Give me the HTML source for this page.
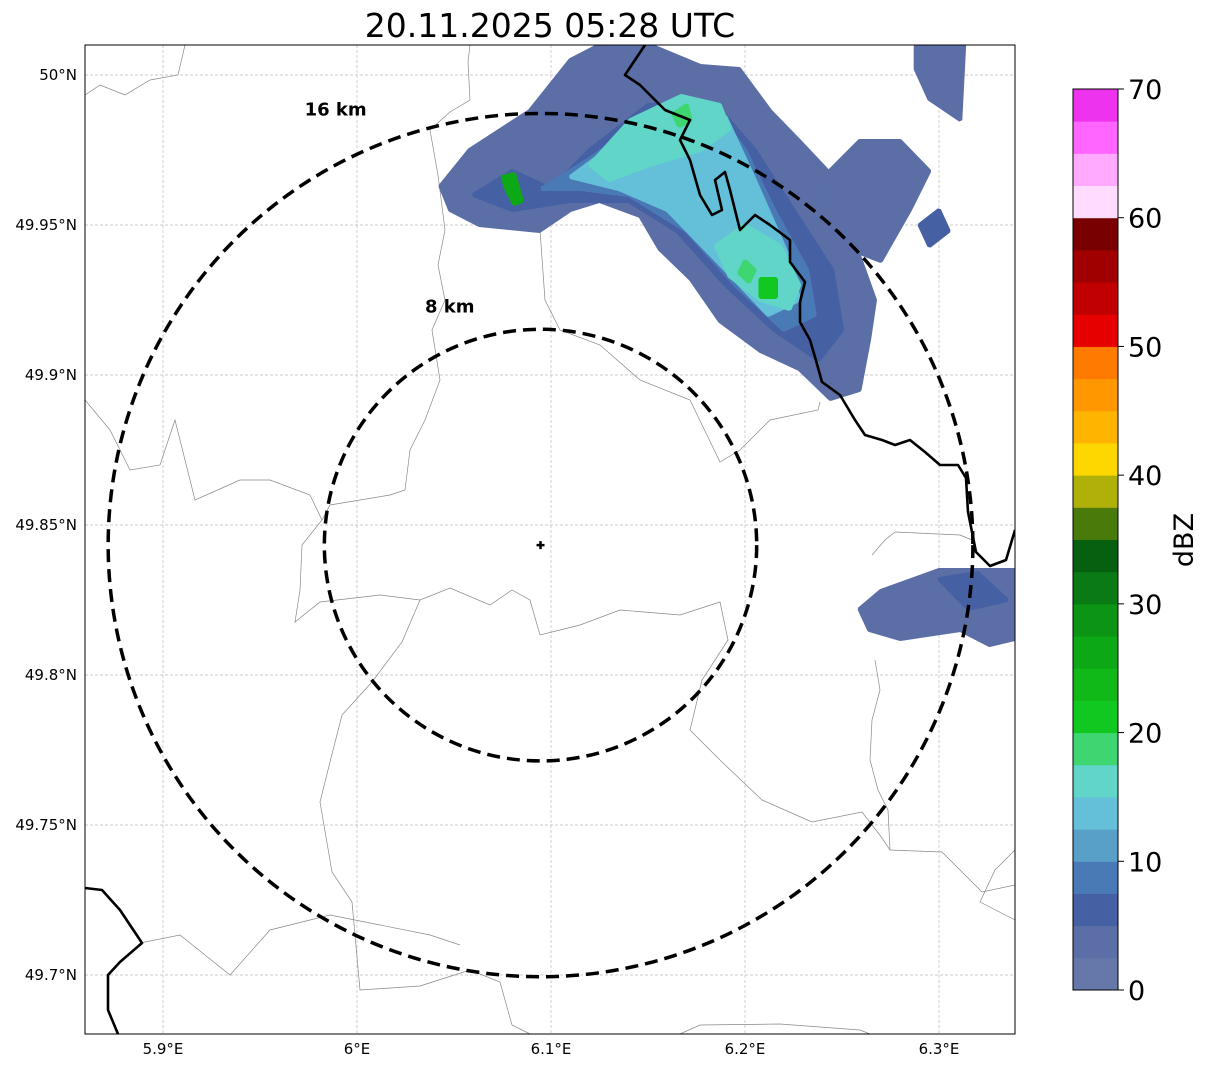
<!DOCTYPE html>
<html><head><meta charset="utf-8"><style>
body{margin:0;background:#fff;}
svg{display:block;font-family:"DejaVu Sans","Liberation Sans",sans-serif;}
</style></head><body>
<svg id="chart" width="1207" height="1069" viewBox="0 0 1207 1069">
<rect x="0" y="0" width="1207" height="1069" fill="#fff"/>
<text x="550" y="37" font-size="33" text-anchor="middle">20.11.2025 05:28 UTC</text>
<defs><clipPath id="mapclip"><rect x="85" y="45" width="930" height="989"/></clipPath></defs>
<g id="map" clip-path="url(#mapclip)"></g>
<g id="axes"></g>
<g id="cbar"></g>
</svg>
<script>
// ---- data ----
const lonTicks = [5.9, 6.0, 6.1, 6.2, 6.3];
const lonLabels = ["5.9°E", "6°E", "6.1°E", "6.2°E", "6.3°E"];
const latTicks = [50.0, 49.95, 49.9, 49.85, 49.8, 49.75, 49.7];
const latLabels = ["50°N", "49.95°N", "49.9°N", "49.85°N", "49.8°N", "49.75°N", "49.7°N"];
const cbarTicks = [0, 10, 20, 30, 40, 50, 60, 70];
const cbarColors = ["#6677aa","#5b6ea6","#4560a3","#4a7ab5","#58a0c8","#64c0d8","#60d5c8","#3dd670","#10c820","#10b818","#0da816","#0c9414","#0a7a14","#066010","#4a7a0a","#b0b00a","#ffd700","#ffb400","#ff9800","#ff7a00","#e60000","#c00000","#a00000","#780000","#ffdcff","#ffaaff","#ff66ff","#ee33ee"];
const radarCenter = [6.0946, 49.8433];
const ringRadiiKm = [8, 16];
const ringLabels = ["8 km", "16 km"];
const echoLevels = [2.5, 2.5, 2.5, 2.5, 5, 7.5, 12.5, 15, 15, 17.5, 17.5, 20, 25, 5, 5];
const echoShapes = [
 [[6.043,49.963],[6.058,49.975],[6.089,49.988],[6.110,50.005],[6.125,50.010],[6.151,50.010],[6.177,50.003],[6.197,50.002],[6.213,49.988],[6.228,49.978],[6.244,49.967],[6.244,49.958],[6.257,49.943],[6.267,49.925],[6.264,49.912],[6.259,49.895],[6.244,49.892],[6.228,49.902],[6.208,49.908],[6.187,49.918],[6.172,49.932],[6.156,49.942],[6.146,49.953],[6.125,49.958],[6.110,49.955],[6.094,49.948],[6.063,49.950],[6.048,49.955]],
 [[6.239,49.965],[6.259,49.978],[6.280,49.978],[6.295,49.968],[6.285,49.955],[6.270,49.938],[6.254,49.942],[6.239,49.952]],
 [[6.288,50.010],[6.313,50.010],[6.311,49.985],[6.295,49.992],[6.288,50.002]],
 [[6.259,49.822],[6.270,49.828],[6.300,49.835],[6.339,49.835],[6.339,49.812],[6.326,49.810],[6.311,49.815],[6.280,49.812],[6.264,49.815]],
 [[6.060,49.960],[6.080,49.968],[6.100,49.962],[6.120,49.975],[6.150,49.990],[6.185,49.990],[6.205,49.975],[6.225,49.955],[6.245,49.935],[6.250,49.915],[6.238,49.905],[6.215,49.915],[6.190,49.930],[6.165,49.948],[6.140,49.958],[6.110,49.958],[6.080,49.955]],
 [[6.095,49.962],[6.120,49.972],[6.150,49.986],[6.185,49.988],[6.200,49.975],[6.215,49.955],[6.232,49.935],[6.236,49.920],[6.220,49.915],[6.195,49.930],[6.170,49.948],[6.140,49.960],[6.115,49.962]],
 [[6.110,49.966],[6.135,49.978],[6.160,49.988],[6.190,49.986],[6.205,49.965],[6.222,49.940],[6.228,49.925],[6.212,49.920],[6.190,49.935],[6.160,49.955],[6.135,49.962]],
 [[6.120,49.970],[6.141,49.985],[6.167,49.993],[6.187,49.990],[6.192,49.982],[6.177,49.975],[6.151,49.970],[6.130,49.965]],
 [[6.185,49.943],[6.200,49.950],[6.218,49.943],[6.228,49.930],[6.223,49.922],[6.208,49.925],[6.192,49.933]],
 [[6.163,49.987],[6.170,49.990],[6.172,49.985],[6.166,49.983]],
 [[6.200,49.938],[6.205,49.935],[6.202,49.931],[6.197,49.934]],
 [[6.208,49.932],[6.216,49.932],[6.216,49.926],[6.208,49.926]],
 [[6.075,49.966],[6.081,49.967],[6.085,49.958],[6.081,49.957],[6.077,49.962]],
 [[6.290,49.950],[6.300,49.955],[6.305,49.948],[6.295,49.943]],
 [[6.300,49.832],[6.320,49.834],[6.335,49.825],[6.315,49.822]]
];
// ---- scales ----
const x = lon => 163 + (lon - 5.9) * 1940;
const y = lat => 75 + (50.0 - lat) * 3000;
const kmX = 1940 / (111.32 * Math.cos(49.84 * Math.PI / 180));
const kmY = 3000 / 111.2;
const cbY = v => 990 - v * (901 / 70);
function colorFor(v){ return cbarColors[Math.min(27, Math.floor(v / 2.5))]; }
const NS = "http://www.w3.org/2000/svg";
function mk(tag, attrs, parent){ const e = document.createElementNS(NS, tag); for (const k in attrs) e.setAttribute(k, attrs[k]); parent.appendChild(e); return e; }
const map = document.getElementById('map'), axes = document.getElementById('axes'), cbar = document.getElementById('cbar');

lonTicks.forEach((t, i) => {
  const g = mk('line', {x1: x(t), x2: x(t), y1: 45, y2: 1034, stroke: '#bbb', 'stroke-width': 0.7, 'stroke-dasharray': '3,2'}, map);
  
  
  const l = mk('text', {x: x(t), y: 1054, 'font-size': 15, 'text-anchor': 'middle'}, axes);
  l.textContent = lonLabels[i];
  
  
});
latTicks.forEach((t, i) => {
  const g = mk('line', {x1: 85, x2: 1015, y1: y(t), y2: y(t), stroke: '#bbb', 'stroke-width': 0.7, 'stroke-dasharray': '3,2'}, map);
  
  
  const l = mk('text', {x: 77, y: y(t) + 5, 'font-size': 15, 'text-anchor': 'end'}, axes);
  l.textContent = latLabels[i];
  
  
});

const thin = [
 "85,95 100,85 125,95 150,80 178,75 185,45",
 "470,45 468,62 470,100 450,112 430,130 438,175 445,230 438,265 445,300 432,330 440,380 425,420 410,450 405,490 390,495 330,505 322,520",
 "540,230 545,300 560,330 600,345 640,380 690,400 720,462 740,450 770,420 818,410 820,402",
 "85,400 110,430 130,470 160,465 175,420 185,460 195,500 240,480 270,480 310,495 322,520 302,545 300,590 295,622 320,602 380,595 420,600 450,588 490,605 512,590 530,600 540,635 580,625 620,610 680,615 720,602 728,640 702,680 690,730 722,762 762,800 812,822 862,812 882,838 890,850 942,852 982,892 1015,885",
 "420,600 402,642 372,682 342,715 330,762 320,802 332,872 352,902 360,990 420,986 470,970 500,982 512,1025 530,1034",
 "140,943 180,935 230,975 270,930 330,915 380,925 430,935 460,945",
 "872,555 885,540 895,532 960,535 972,540",
 "890,850 888,810 878,790 870,760 872,720 880,690 875,660",
 "680,1034 700,1025 780,1024 860,1030 870,1034",
 "1015,850 995,870 980,902 1015,920"
];
thin.forEach(p => { const e = mk('polyline', {points: p, fill: 'none', stroke: '#888', 'stroke-width': 0.7}, map);
    });

echoShapes.forEach((poly, i) => {
  const pts = poly.map(p => x(p[0]).toFixed(1) + ',' + y(p[1]).toFixed(1)).join(' ');
  const e = mk('polygon', {points: pts, fill: colorFor(echoLevels[i]), 'stroke': colorFor(echoLevels[i]), 'stroke-width': 4, 'stroke-linejoin': 'bevel'}, map);
  
  
});

const thick = [
 "645,45 625,75 640,85 665,110 690,120 680,140 690,160 700,195 712,215 722,210 715,180 725,172 730,190 740,230 755,215 770,225 790,240 790,262 805,282 800,302 800,322 810,340 815,357 822,382 840,395 855,420 865,435 882,440 895,445 910,440 925,452 940,465 958,465 966,478 968,512 976,552 990,566 1006,560 1015,530",
 "85,888 102,890 120,910 142,943 120,962 108,975 108,1010 118,1034"
];
thick.forEach(p => { const e = mk('polyline', {points: p, fill: 'none', stroke: '#000', 'stroke-width': 2.6, 'stroke-linejoin': 'round'}, map);
    });

const labelDx = [0.42, 0.474];
const labelDy = [-17, 2];
const cx = x(radarCenter[0]), cy = y(radarCenter[1]);
ringRadiiKm.forEach((r, i) => {
  const e = mk('ellipse', {cx: cx, cy: cy, rx: r * kmX, ry: r * kmY, fill: 'none', stroke: '#000', 'stroke-width': 3.5, 'stroke-dasharray': '13,7'}, map);
  
  
  const t = mk('text', {x: cx - r * kmX * labelDx[i], y: cy - r * kmY + labelDy[i], 'font-size': 18, 'font-weight': 'bold', 'text-anchor': 'middle'}, map);
  t.textContent = ringLabels[i];
  
  
});
const c = mk('path', {d: `M${cx-4},${cy}H${cx+4}M${cx},${cy-4}V${cy+4}`, stroke: '#000', 'stroke-width': 2.5}, map);



const fr = mk('rect', {x: 85, y: 45, width: 930, height: 989, fill: 'none', stroke: '#000', 'stroke-width': 1}, axes);



cbarColors.forEach((col, i) => {
  const r = mk('rect', {x: 1073, y: cbY((i + 1) * 2.5), width: 45, height: cbY(i * 2.5) - cbY((i + 1) * 2.5) + 0.5, fill: col}, cbar);
  
  
});
const cf = mk('rect', {x: 1073, y: 89, width: 45, height: 901, fill: 'none', stroke: '#000', 'stroke-width': 1}, cbar);


cbarTicks.forEach(t => {
  mk('line', {x1: 1118, x2: 1124, y1: cbY(t), y2: cbY(t), stroke: '#000'}, cbar);
  const l = mk('text', {x: 1128, y: cbY(t) + 10, 'font-size': 27}, cbar);
  l.textContent = t;
  
  
});
const lab = mk('text', {x: 1193, y: 540, 'font-size': 27, 'text-anchor': 'middle', transform: 'rotate(-90 1193 540)'}, cbar);
lab.textContent = 'dBZ';


</script>
</body></html>
